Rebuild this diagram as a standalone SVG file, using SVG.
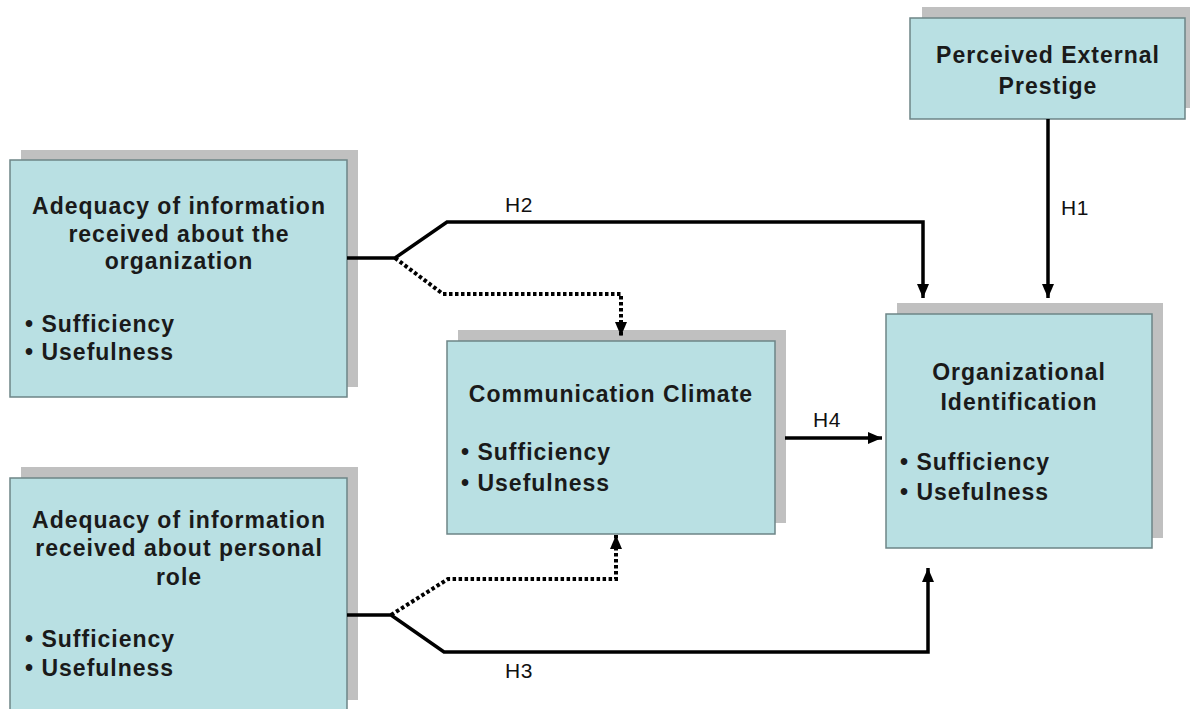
<svg xmlns="http://www.w3.org/2000/svg" width="1190" height="709" viewBox="0 0 1190 709">
<defs>
<style>
.shadow{fill:#c0c0c0;}
.box{fill:#b9e0e3;stroke:#6d8587;stroke-width:1.5;}
.t{font-family:"Liberation Sans",Arial,sans-serif;font-weight:bold;font-size:23px;letter-spacing:1px;fill:#1a1a1a;}
.c{text-anchor:middle;}
.lbl{font-family:"Liberation Sans",Arial,sans-serif;font-size:21px;letter-spacing:0.5px;fill:#111;text-anchor:middle;}
.solid{fill:none;stroke:#000;stroke-width:3.5;stroke-linejoin:miter;}
.dot{fill:none;stroke:#000;stroke-width:4;stroke-dasharray:3.5 2.5;}
</style>
<marker id="arr" markerUnits="userSpaceOnUse" markerWidth="16" markerHeight="16" viewBox="0 0 16 16" refX="14" refY="8" orient="auto">
<path d="M0,2 L14,8 L0,14 Z" fill="#000"/>
</marker>
</defs>

<g id="prestige">
<rect class="shadow" x="922" y="7" width="275" height="101"/>
<rect class="box" x="910" y="18" width="275" height="101"/>
<text class="t c" x="1048" y="63">Perceived External</text>
<text class="t c" x="1048" y="94">Prestige</text>
</g>

<g id="adequacy-org">
<rect class="shadow" x="21" y="150" width="337" height="237"/>
<rect class="box" x="10" y="160" width="337" height="237"/>
<text class="t c" x="179" y="214">Adequacy of information</text>
<text class="t c" x="179" y="242">received about the</text>
<text class="t c" x="179" y="269">organization</text>
<text class="t" x="25" y="332">• Sufficiency</text>
<text class="t" x="25" y="360">• Usefulness</text>
</g>

<g id="adequacy-role">
<rect class="shadow" x="21" y="467" width="337" height="233"/>
<rect class="box" x="10" y="478" width="337" height="245"/>
<text class="t c" x="179" y="528">Adequacy of information</text>
<text class="t c" x="179" y="556">received about personal</text>
<text class="t c" x="179" y="585">role</text>
<text class="t" x="25" y="647">• Sufficiency</text>
<text class="t" x="25" y="676">• Usefulness</text>
</g>

<g id="climate">
<rect class="shadow" x="458" y="330" width="328" height="193"/>
<rect class="box" x="447" y="341" width="328" height="193"/>
<text class="t c" x="611" y="402">Communication Climate</text>
<text class="t" x="461" y="460">• Sufficiency</text>
<text class="t" x="461" y="491">• Usefulness</text>
</g>

<g id="identification">
<rect class="shadow" x="897" y="303" width="266" height="235"/>
<rect class="box" x="886" y="314" width="266" height="234"/>
<text class="t c" x="1019" y="380">Organizational</text>
<text class="t c" x="1019" y="410">Identification</text>
<text class="t" x="900" y="470">• Sufficiency</text>
<text class="t" x="900" y="500">• Usefulness</text>
</g>

<g id="connectors">
<path class="solid" d="M347 258 H395 L447 222 H923 V298" marker-end="url(#arr)"/>
<path class="dot" d="M395 258 L443 294 H621 V336" marker-end="url(#arr)"/>
<path class="solid" d="M1048 119 V298" marker-end="url(#arr)"/>
<path class="solid" d="M785 438 H882" marker-end="url(#arr)"/>
<path class="solid" d="M347 615 H391 L444 652 H928 V568" marker-end="url(#arr)"/>
<path class="dot" d="M391 615 L448 579 H616 V535" marker-end="url(#arr)"/>
<text class="lbl" x="519" y="212">H2</text>
<text class="lbl" x="1075" y="215">H1</text>
<text class="lbl" x="827" y="427">H4</text>
<text class="lbl" x="519" y="678">H3</text>
</g>
</svg>
